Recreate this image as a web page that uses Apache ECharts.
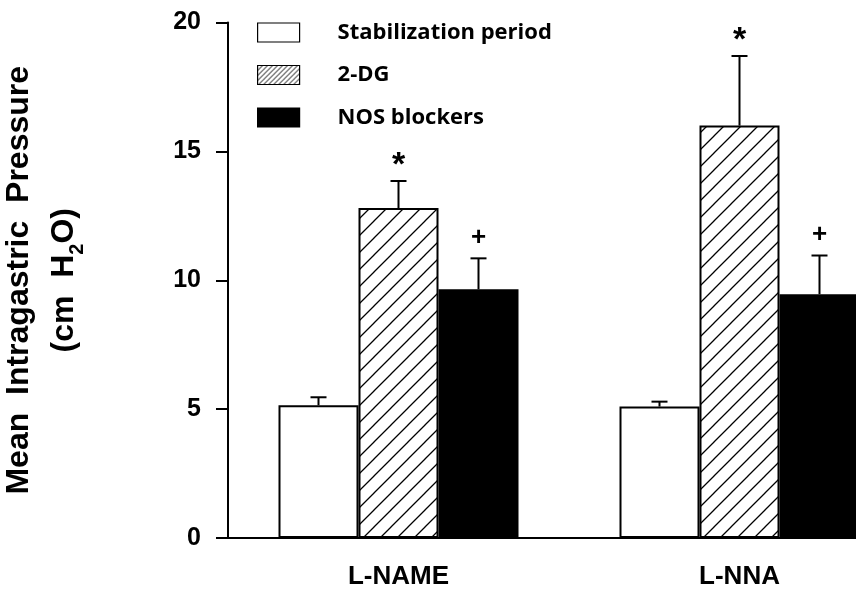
<!DOCTYPE html>
<html>
<head>
<meta charset="utf-8">
<script src="https://cdn.jsdelivr.net/npm/echarts@6/dist/echarts.min.js"></script>
<style>
html,body{margin:0;padding:0;background:#fff;}
#chart{width:856px;height:593px;}
</style>
</head>
<body>
<div id="chart"></div>
<script>
// ---- data ----
var categories = ['L-NAME', 'L-NNA'];
var seriesNames = ['Stabilization period', '2-DG', 'NOS blockers'];
var stabilization = [5.15, 5.10];
var stabilizationErr = [0.31, 0.19];
var dg = [12.8, 16.0];
var dgErr = [1.05, 2.7];
var nos = [9.65, 9.46];
var nosErr = [1.2, 1.5];
var dgMarks = ['*', '*'];
var nosMarks = ['+', '+'];
var yTicks = [0, 5, 10, 15, 20];

// ---- patterns ----
function hatch(size, lw) {
  var c = document.createElement('canvas');
  c.width = size; c.height = size;
  var g = c.getContext('2d');
  g.fillStyle = '#fff'; g.fillRect(0, 0, size, size);
  g.strokeStyle = '#000'; g.lineWidth = lw;
  g.beginPath();
  g.moveTo(-1, size + 1); g.lineTo(size + 1, -1);
  g.moveTo(-2, 2); g.lineTo(2, -2);
  g.moveTo(size - 2, size + 2); g.lineTo(size + 2, size - 2);
  g.stroke();
  return c;
}
var barHatch = { image: hatch(17, 1.3), repeat: 'repeat' };
var legendHatch = { image: hatch(5, 1), repeat: 'repeat' };

var BAR_W = 80;
var values = [stabilization, dg, nos];
var errs = [stabilizationErr, dgErr, nosErr];
var marks = [['', ''], dgMarks, nosMarks];

var errData = [];
for (var s = 0; s < 3; s++) {
  for (var j = 0; j < categories.length; j++) {
    errData.push([j, values[s][j], errs[s][j], s, marks[s][j]]);
  }
}

var chart = echarts.init(document.getElementById('chart'), null, { renderer: 'canvas' });
var axisFont = 'Liberation Sans, Arial, sans-serif';

var option = {
  backgroundColor: '#fff',
  animation: false,
  grid: { left: 228, width: 682, top: 22.5, bottom: 55, containLabel: false, outerBoundsMode: 'none' },
  legend: {
    orient: 'vertical',
    left: 257, top: 21, padding: 0,
    itemWidth: 42, itemHeight: 19, itemGap: 19.5,
    selectedMode: false,
    icon: 'rect',
    textStyle: {
      fontFamily: 'Open Sans, sans-serif', fontWeight: 'bold', fontSize: 22,
      color: '#000', padding: [0, 0, 4, 33], lineHeight: 19
    },
    data: [
      { name: seriesNames[0], itemStyle: { color: '#fff', borderColor: '#000', borderWidth: 1.2 } },
      { name: seriesNames[1], itemStyle: { color: legendHatch, borderColor: '#000', borderWidth: 1.2 } },
      { name: seriesNames[2], itemStyle: { color: '#000', borderColor: '#000', borderWidth: 1.2 } }
    ]
  },
  xAxis: {
    type: 'category',
    data: categories,
    axisLine: { lineStyle: { color: '#000', width: 2 } },
    axisTick: { alignWithLabel: true, length: 11, lineStyle: { color: '#000', width: 2 } },
    axisLabel: { color: '#000', fontFamily: axisFont, fontWeight: 'bold', fontSize: 26, margin: 26 },
    splitLine: { show: false }
  },
  yAxis: {
    type: 'value',
    min: yTicks[0], max: yTicks[yTicks.length - 1], interval: 5,
    axisLine: { show: true, lineStyle: { color: '#000', width: 2 } },
    axisTick: { show: true, length: 12, lineStyle: { color: '#000', width: 2 } },
    axisLabel: { color: '#000', fontFamily: axisFont, fontWeight: 'bold', fontSize: 25, margin: 27 },
    splitLine: { show: false },
    name: 'Mean  Intragastric  Pressure\n(cm  H{sub|2}O)',
    nameLocation: 'middle',
    nameRotate: 90,
    nameGap: 141,
    nameTextStyle: {
      color: '#000', fontFamily: axisFont, fontWeight: 'bold', fontSize: 32, lineHeight: 45,
      rich: {
        sub: { fontFamily: axisFont, fontWeight: 'bold', fontSize: 20, verticalAlign: 'bottom', padding: [12, 0, 0, 0] }
      }
    }
  },
  series: [
    {
      name: seriesNames[0], type: 'bar', data: stabilization, barWidth: BAR_W, barGap: '0%',
      itemStyle: { color: '#fff', borderColor: '#000', borderWidth: 2 }
    },
    {
      name: seriesNames[1], type: 'bar', data: dg, barWidth: BAR_W, barGap: '0%',
      itemStyle: { color: barHatch, borderColor: '#000', borderWidth: 2 }
    },
    {
      name: seriesNames[2], type: 'bar', data: nos, barWidth: BAR_W, barGap: '0%',
      itemStyle: { color: '#000', borderColor: '#000', borderWidth: 2 }
    },
    {
      name: 'errors', type: 'custom', data: errData, z: 5,
      encode: { x: 0, y: 1 },
      renderItem: function (params, api) {
        var j = api.value(0), v = api.value(1), e = api.value(2), s = api.value(3);
        var mark = errData[params.dataIndex][4];
        var base = api.coord([j, v]);
        var top = api.coord([j, v + e]);
        var x = base[0] + (s - 1) * BAR_W;
        var capW = 8;
        var children = [
          { type: 'line', shape: { x1: x, y1: base[1], x2: x, y2: top[1] }, style: { stroke: '#000', lineWidth: 2 } },
          { type: 'line', shape: { x1: x - capW, y1: top[1], x2: x + capW, y2: top[1] }, style: { stroke: '#000', lineWidth: 2 } }
        ];
        if (mark) {
          var isStar = mark === '*';
          children.push({
            type: 'text',
            style: {
              text: mark, x: x, y: top[1] - (isStar ? 15 : 21),
              align: 'center', verticalAlign: 'middle',
              fill: '#000', fontFamily: axisFont, fontWeight: 'bold', fontSize: isStar ? 34 : 26
            }
          });
        }
        return { type: 'group', children: children };
      }
    }
  ]
};
chart.setOption(option);
</script>
</body>
</html>
